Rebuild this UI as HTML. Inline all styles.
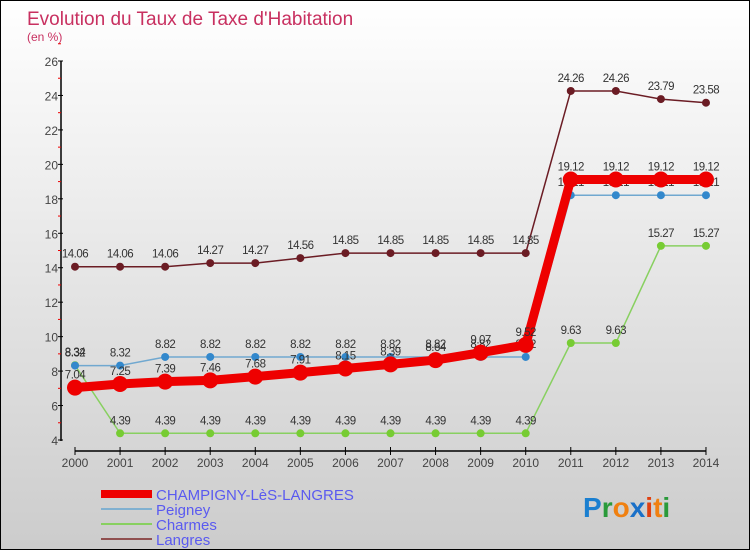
<!DOCTYPE html>
<html><head><meta charset="utf-8"><style>
body{margin:0;width:750px;height:550px;overflow:hidden;font-family:"Liberation Sans",sans-serif}
#wrap{position:relative;width:748px;height:548px;border:1px solid #000;background:linear-gradient(#fff,#ccc)}
</style></head><body>
<div id="wrap">
<svg id="chart" width="748" height="548"></svg>
</div>
<script>
const years=[2000,2001,2002,2003,2004,2005,2006,2007,2008,2009,2010,2011,2012,2013,2014];
const champigny=[7.04,7.25,7.39,7.46,7.68,7.91,8.15,8.39,8.64,9.07,9.52,19.12,19.12,19.12,19.12];
const peigney=[8.32,8.32,8.82,8.82,8.82,8.82,8.82,8.82,8.82,8.82,8.82,18.21,18.21,18.21,18.21];
const charmes=[8.34,4.39,4.39,4.39,4.39,4.39,4.39,4.39,4.39,4.39,4.39,9.63,9.63,15.27,15.27];
const langres=[14.06,14.06,14.06,14.27,14.27,14.56,14.85,14.85,14.85,14.85,14.85,24.26,24.26,23.79,23.58];
const yTicks=[4,6,8,10,12,14,16,18,20,22,24,26];
const svg=document.getElementById('chart');
const NS='http://www.w3.org/2000/svg';
const X=i=>74+i*45.07, Y=v=>439-(v-4)*(379/22);
function mk(t,a,txt){const e=document.createElementNS(NS,t);for(const k in a)e.setAttribute(k,a[k]);if(txt!==undefined)e.textContent=txt;svg.appendChild(e);return e;}
let e;
e=mk('text',{x:26,y:24,'font-size':19,fill:'#c83060'},'Evolution du Taux de Taxe d\'Habitation');


e=mk('text',{x:26,y:40,'font-size':12,fill:'#c83060'},'(en %)');


e=mk('line',{x1:60,y1:60,x2:60,y2:440,stroke:'#000','stroke-width':1.5});


yTicks.forEach(v=>{
 e=mk('line',{x1:57,y1:Y(v),x2:62,y2:Y(v),stroke:'#000'});
 
 
 e=mk('line',{x1:57,y1:Y(v+1),x2:60,y2:Y(v+1),stroke:'#e00'});
 
 
 e=mk('text',{x:57,y:Y(v)+5,'font-size':12,fill:'#444','text-anchor':'end'},v);
 
 
});
e=mk('line',{x1:X(0),y1:450,x2:X(14),y2:450,stroke:'#000','stroke-width':1.5});


years.forEach((yr,i)=>{
 e=mk('line',{x1:X(i),y1:446,x2:X(i),y2:454,stroke:'#000'});
 
 
 e=mk('text',{x:X(i),y:466,'font-size':12,fill:'#444','text-anchor':'middle'},yr);
 
 
});
function series(data,color,w,r,name,dotFill){
 e=mk('polyline',{points:data.map((v,i)=>X(i)+','+Y(v)).join(' '),fill:'none',stroke:color,'stroke-width':w});
 
 
 data.forEach((v,i)=>{
  e=mk('circle',{cx:X(i),cy:Y(v),r:r,fill:dotFill});
  
  
  e=mk('text',{x:X(i),y:Y(v)-9,'font-size':11.5,fill:'#333','text-anchor':'middle','letter-spacing':'-0.5'},v);
  
  
 });
}
series(langres,'#6b1c24',1.5,4,'langres','#6b1c24');
series(charmes,'#88d060',1.5,4,'charmes','#77cc33');
series(peigney,'#70a8d0',1.5,4,'peigney','#3388cc');
series(champigny,'#ee0000',9,8,'champigny','#ee0000');
const leg=[['CHAMPIGNY-LèS-LANGRES','#ee0000',8],['Peigney','#80b0d0',2],['Charmes','#88d060',2],['Langres','#905050',2]];
leg.forEach((l,i)=>{
 const y=493+i*15;
 e=mk('line',{x1:100,y1:y,x2:151,y2:y,stroke:l[1],'stroke-width':l[2]});
 
 
 e=mk('text',{x:155,y:y+6,'font-size':15,fill:'#5a5af0'},l[0]);
 
 
});
const logo=[['P','#1a7fd0'],['r','#2a9a3a'],['o','#f08010'],['x','#1a70c8'],['i','#e04010'],['t','#f08010'],['i','#2a9a3a']];
e=mk('text',{x:582,y:516,'font-size':28,'font-weight':'bold'});


logo.forEach(c=>{const s=document.createElementNS(NS,'tspan');s.setAttribute('fill',c[1]);s.textContent=c[0];e.appendChild(s);});
</script>
</body></html>
